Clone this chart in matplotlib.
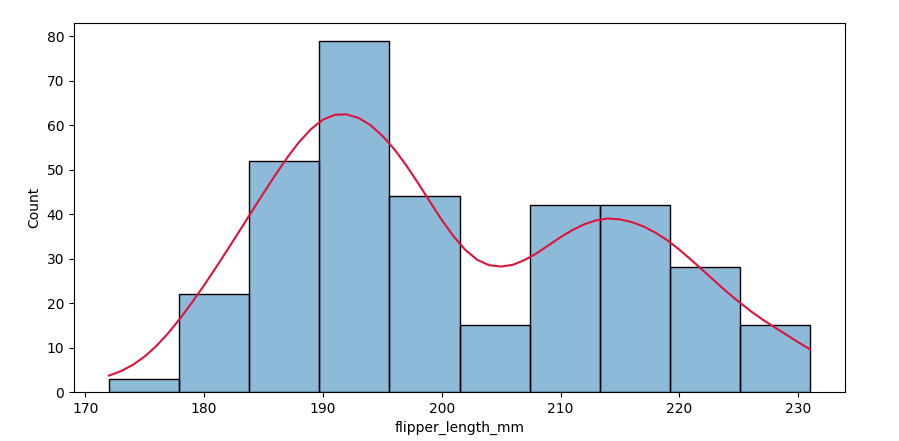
import matplotlib.pyplot as plt
import numpy as np

# histogram of flipper_length_mm (10 bins between min and max)
bin_lo, bin_hi = 172, 231
counts = [3, 22, 52, 79, 44, 15, 42, 42, 28, 15]

# kde curve, scaled to counts
kde_x = list(range(172, 232))
kde_y = [3.7, 4.7, 6.1, 8.0, 10.4, 13.3, 16.6, 20.2, 24.0, 28.0,
         32.1, 36.3, 40.5, 44.7, 48.8, 52.7, 56.2, 59.1, 61.2, 62.3,
         62.4, 61.6, 60.0, 57.6, 54.6, 51.0, 47.0, 42.8, 38.7, 35.0,
         31.9, 29.7, 28.5, 28.2, 28.6, 29.7, 31.2, 33.0, 34.8, 36.4,
         37.7, 38.6, 39.0, 38.8, 38.2, 37.2, 35.8, 34.1, 32.0, 29.7,
         27.3, 24.9, 22.5, 20.3, 18.2, 16.3, 14.6, 12.9, 11.2, 9.6]

edges = np.linspace(bin_lo, bin_hi, len(counts) + 1)

fig, ax = plt.subplots(figsize=(8.99, 4.41), dpi=100)
fig.subplots_adjust(left=0.0823, right=0.94, top=0.948, bottom=0.111)

ax.bar(edges[:-1], counts, width=np.diff(edges), align="edge",
       color="#1f77b4", alpha=0.5, edgecolor="none")
ax.bar(edges[:-1], counts, width=np.diff(edges), align="edge",
       color="none", edgecolor="black", linewidth=1)
ax.plot(kde_x, kde_y, color="crimson", linewidth=1.5, solid_joinstyle="round")

ax.set_xlabel("flipper_length_mm")
ax.set_ylabel("Count")
ax.margins(x=0.05, y=0.05)
ax.set_ylim(0, max(counts) * 1.05)

plt.savefig("out.png", dpi=100)
plt.close()
